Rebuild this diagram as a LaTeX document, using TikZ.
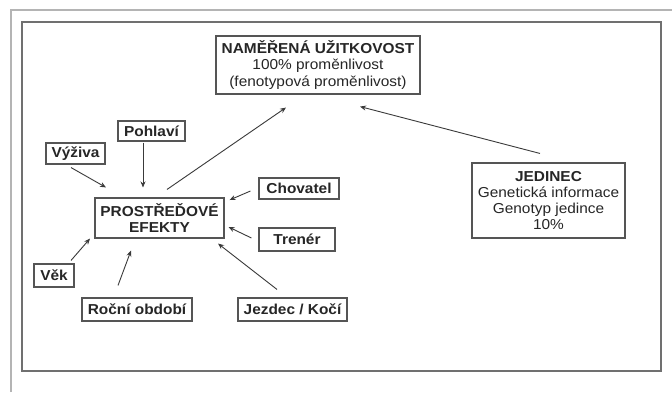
\documentclass[tikz,border=0pt]{standalone}
\usepackage{fontspec}
\setmainfont[FakeStretch=1.07]{Liberation Sans}
\usetikzlibrary{arrows.meta}
\definecolor{txt}{HTML}{262626}
\definecolor{bord}{HTML}{555555}
\definecolor{lin}{HTML}{3A3A3A}
\definecolor{outer}{HTML}{B4B4B4}
\definecolor{inner}{HTML}{707070}
\begin{document}
\begin{tikzpicture}[x=1pt,y=-1pt,
  box/.style={draw=bord, line width=1.1pt, text=txt, inner sep=0pt, align=center,
    font=\fontsize{14.4}{16.3}\selectfont},
  bbox/.style={box, font=\fontsize{14.4}{16.3}\selectfont\bfseries},
  arr/.style={draw=lin, line width=0.9pt, -{Stealth[length=6pt,width=5pt]}}]
\useasboundingbox (0,0) rectangle (672,392);
\fill[white] (0,0) rectangle (672,392);
% frames
\draw[outer, line width=1.6pt] (11,392) -- (11,10) -- (672,10);
\draw[inner, line width=1.1pt] (22,22) rectangle (661,371);
% nodes
\node[box, minimum width=204pt, minimum height=58pt] (nam) at (318,65)
  {\textbf{NAMĚŘENÁ UŽITKOVOST}\\100\% proměnlivost\\(fenotypová proměnlivost)};
\node[box, minimum width=153pt, minimum height=75pt] (jed) at (548.5,200.5)
  {\textbf{JEDINEC}\\Genetická informace\\Genotyp jedince\\10\%};
\node[bbox, minimum width=129pt, minimum height=40pt] (pe) at (159.5,218)
  {PROSTŘEĎOVÉ\\EFEKTY};
\node[bbox, minimum width=67pt, minimum height=20pt] (poh) at (151.5,131) {Pohlaví};
\node[bbox, minimum width=59pt, minimum height=21pt] (vyz) at (75.5,153.5) {Výživa};
\node[bbox, minimum width=80pt, minimum height=21pt] (chov) at (299,188.5) {Chovatel};
\node[bbox, minimum width=76pt, minimum height=23pt] (tren) at (297,239.5) {Trenér};
\node[bbox, minimum width=40pt, minimum height=23pt] (vek) at (54,275.5) {Věk};
\node[bbox, minimum width=110pt, minimum height=23pt] (rocni) at (137,309.5) {Roční období};
\node[bbox, minimum width=109pt, minimum height=23pt] (jezd) at (292.5,309.5) {Jezdec / Kočí};
% connectors
\draw[arr] ([shift={(7.5,-8)}]pe.north) -- ([shift={(-32,13)}]nam.south);
\draw[arr] ([shift={(-8.5,-9)}]jed.north) -- ([shift={(42,12)}]nam.south);
\draw[arr] ([shift={(-8.5,1)}]poh.south) -- ([shift={(-16.5,-10)}]pe.north);
\draw[arr] ([shift={(-4.5,3)}]vyz.south) -- ([shift={(-53.5,-10)}]pe.north);
\draw[arr] ([shift={(-8,2.5)}]chov.west) -- ([shift={(5,-18)}]pe.east);
\draw[arr] ([shift={(-7,-1.5)}]tren.west) -- ([shift={(4,9)}]pe.east);
\draw[arr] ([shift={(-15.5,-8)}]jezd.north) -- ([shift={(58.5,5)}]pe.south);
\draw[arr] ([shift={(-19,-12)}]rocni.north) -- ([shift={(-28.5,12)}]pe.south);
\draw[arr] ([shift={(17,-3)}]vek.north) -- ([shift={(-69.5,0)}]pe.south);
\end{tikzpicture}
\end{document}
